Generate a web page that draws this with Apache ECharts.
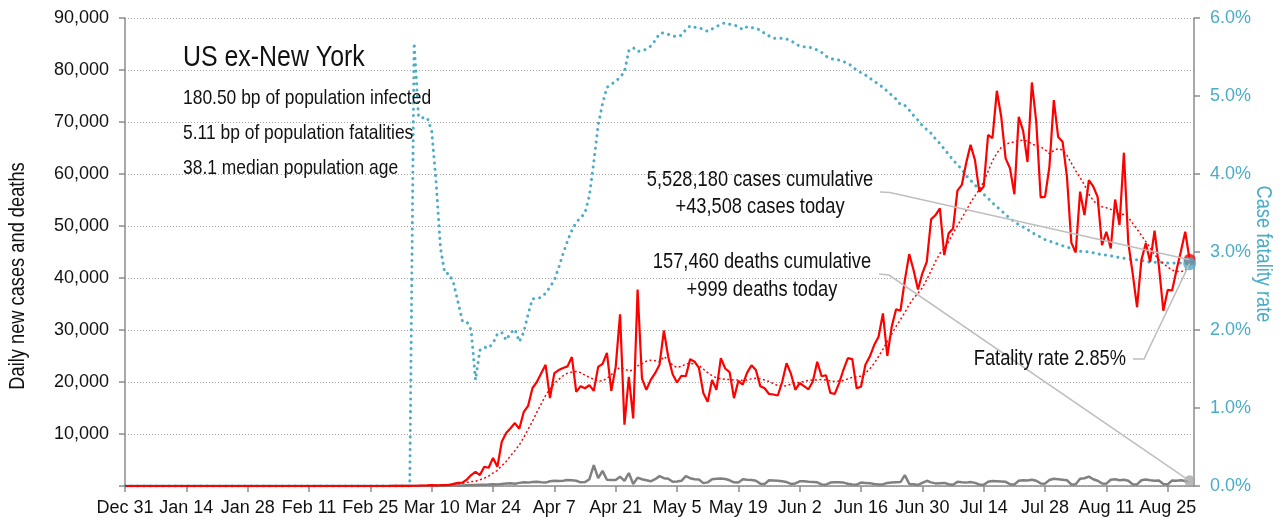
<!DOCTYPE html>
<html>
<head>
<meta charset="utf-8">
<script src="https://cdn.jsdelivr.net/npm/echarts@6/dist/echarts.min.js"></script>
<style>
  html, body { margin: 0; padding: 0; background: #fff; }
  #chart { width: 1283px; height: 527px; }
</style>
</head>
<body>
<div id="chart"></div>
<script>
// daily values Dec 31 .. Aug 30
const cases = [
  0,0,0,0,0,0,0,0,0,0, 0,0,0,0,0,0,0,0,0,0, 0,0,0,0,0,0,0,0,0,0,
  0,0,0,0,0,0,0,0,0,0, 0,0,0,0,0,0,0,0,0,0, 0,0,0,0,0,0,0,0,0,0, 0,
  5,10,15,20,30,50,70,100,120,150,130,150,180,
  200,400,600,650,1200,2100,2700,2100,3700,3500,
  5400,3700,8500,10200,11100,12100,11000,14200,15400,18800,
  20000,21700,23300,16900,21700,22300,22700,23000,24800,18100,
  19200,18800,19400,18300,22900,23500,25600,18300,22900,33000,
  11800,21000,13000,37800,20700,18500,20400,21700,23300,29900,
  24800,21500,19900,21200,21100,24400,23900,22700,17900,16200,
  20400,18500,24600,22600,21900,16900,20200,19500,21800,23200,
  22300,19200,18800,17700,17600,17400,20000,23600,21600,18500,
  19800,19200,18600,20100,23900,21100,21300,17900,17700,19800,
  22400,24600,24400,18800,19100,23300,24900,27100,28700,33200,
  25000,30600,34000,33700,39600,44600,41500,37800,40900,43100,
  51300,52100,53400,44400,48600,49500,56800,57900,62100,65600,
  62700,56600,57600,67500,66900,76000,71000,63000,61100,56100,
  71000,68300,62300,77600,70000,55500,55600,61400,74200,67100,
  66200,59500,46800,44900,56600,52100,58800,57600,55600,46300,
  48900,45700,55100,50200,64100,46800,40900,34400,43500,46700,
  43100,49100,42200,33700,37700,37600,41500,45100,48900,43508
];

const casesAvg = [
  0,0,0,0,0,0,0,0,0,0, 0,0,0,0,0,0,0,0,0,0, 0,0,0,0,0,0,0,0,0,0,
  0,0,0,0,0,0,0,0,0,0, 0,0,0,0,0,0,0,0,0,0, 0,0,0,0,0,0,0,0,0,0,
  0,0,0,0,0,
  20,30,40,60,80,100,130,170,220,
  280,350,430,530,650,850,900,1200,1500,1900,
  2500,3000,3900,4700,5800,6800,7900,9300,10900,12400,
  14200,15800,17400,18700,19700,20500,21200,21700,21900,22000,
  21800,21300,20900,20500,20200,20200,20700,21400,22300,22800,
  22500,22100,22300,23100,23500,24000,24200,24100,23900,24900,
  24200,23200,22800,23000,23500,23600,23500,23200,22500,21800,
  21200,20800,20600,20500,20500,20400,20400,20300,20400,20600,
  20700,20600,20400,20100,19700,19300,19200,19300,19600,19800,
  19900,20100,20300,20400,20400,20500,20400,20200,20100,20200,
  20300,20600,20900,21000,21100,21700,22500,23600,24900,26300,
  27800,29200,30700,32000,33400,34900,36100,37100,38100,39700,
  41400,43200,44700,45700,47000,48600,50000,51500,53000,54500,
  55800,57000,58500,60500,62500,64000,65100,65700,66000,66200,
  66400,66500,66300,65800,65400,65200,64700,63900,64500,64900,
  64600,63600,62100,60600,59300,57900,56100,54900,54100,53700,
  53500,53200,52600,52300,52200,51700,50500,49400,48200,47000,
  45800,44500,43500,42800,42100,41500,41300,41200,41500,42200
];

const deaths = [
  0,0,0,0,0,0,0,0,0,0, 0,0,0,0,0,0,0,0,0,0, 0,0,0,0,0,0,0,0,0,0,
  0,0,0,0,0,0,0,0,0,0, 0,0,0,0,0,0,0,0,0,0, 0,0,0,0,0,0,0,0,0,0,
  0,0,0,0,0,0,
  10,12,15,20,25,30,40,50,
  60,80,100,120,150,180,200,230,260,300,
  350,300,400,500,550,450,600,700,650,750,
  800,700,650,900,1000,950,1000,1150,1100,1000,
  700,750,1300,4000,1500,2900,1200,1150,1150,1800,
  1000,2500,400,1600,1300,1100,900,1300,1900,1500,
  1400,800,850,1000,1900,1500,1300,1250,550,700,
  1300,1400,1450,1350,1100,700,650,1300,1200,1150,
  1000,450,400,1100,1050,1000,900,750,400,500,
  900,900,800,750,700,300,250,650,700,700,
  650,450,300,250,650,600,550,400,300,300,
  600,650,700,750,2100,400,350,200,600,1000,
  700,500,550,600,350,250,800,700,650,750,
  600,300,250,800,950,900,850,800,350,300,
  1000,1100,1050,1200,1000,500,450,1150,1400,1300,
  1200,1100,300,350,1400,1500,1800,1300,1000,500,
  450,1200,1300,1100,1200,1000,350,300,1100,1250,
  1100,1000,1050,400,300,1050,1000,1100,950,999
];

// case fatality rate, percent
const fatality = [
  0,0,0,0,0,0,0,0,0,0, 0,0,0,0,0,0,0,0,0,0, 0,0,0,0,0,0,0,0,0,0,
  0,0,0,0,0,0,0,0,0,0, 0,0,0,0,0,0,0,0,0,0, 0,0,0,0,0,0,0,0,0,0,
  0,0,0,0,0,0,
  5.68,4.73,4.72,4.72,4.55,3.9,3.05,
  2.73,2.72,2.6,2.36,2.12,2.11,2.0,1.36,1.74,1.78,
  1.77,1.83,1.95,1.97,1.87,1.96,2.01,1.85,1.97,2.2,
  2.4,2.4,2.42,2.47,2.55,2.64,2.8,2.98,3.14,3.28,
  3.38,3.44,3.5,3.72,4.15,4.63,4.9,5.11,5.15,5.19,
  5.24,5.31,5.58,5.62,5.57,5.58,5.6,5.64,5.71,5.8,
  5.81,5.79,5.77,5.76,5.78,5.85,5.9,5.88,5.88,5.85,
  5.83,5.86,5.89,5.92,5.94,5.92,5.91,5.89,5.85,5.89,
  5.88,5.86,5.85,5.8,5.77,5.74,5.74,5.74,5.73,5.71,
  5.67,5.64,5.63,5.63,5.61,5.59,5.56,5.51,5.48,5.47,
  5.46,5.44,5.42,5.38,5.33,5.3,5.27,5.23,5.19,5.15,
  5.11,5.06,5.01,4.96,4.89,4.88,4.82,4.75,4.69,4.62,
  4.57,4.52,4.45,4.39,4.32,4.25,4.18,4.12,4.06,3.98,
  3.92,3.86,3.8,3.74,3.69,3.63,3.58,3.53,3.48,3.43,
  3.39,3.35,3.32,3.29,3.25,3.22,3.19,3.16,3.14,3.12,
  3.1,3.08,3.06,3.05,3.02,3.01,3.01,3.0,2.99,2.98,
  2.96,2.96,2.95,2.94,2.93,2.92,2.91,2.9,2.9,2.89,
  2.88,2.87,2.87,2.87,2.87,2.86,2.86,2.86,2.86,2.85,2.85
];

const infoLines = [
  '180.50 bp of population infected',
  '5.11 bp of population fatalities',
  '38.1 median population age'
];

const FONT = "'Liberation Sans', Arial, sans-serif";
const SQUEEZE = 0.83;   // the original uses a condensed face
const RED = '#ff0000';
const TEAL = '#4bacc6';
const GREY = '#808080';
const AXIS = '#8c8c8c';

// one category per day, Dec 31 2019 to Aug 31 2020
const monthNames = ['Jan','Feb','Mar','Apr','May','Jun','Jul','Aug','Sep','Oct','Nov','Dec'];
const dates = [];
for (let i = 0; i < 245; i++) {
  const d = new Date(2019, 11, 31 + i);
  dates.push(monthNames[d.getMonth()] + ' ' + d.getDate());
}

const chart = echarts.init(document.getElementById('chart'));
const last = cases.length - 1;

const option = {
  animation: false,
  textStyle: { fontFamily: FONT },
  grid: { left: 125, right: 89, top: 18, bottom: 41 },
  xAxis: {
    type: 'category',
    data: dates,
    boundaryGap: false,
    axisLine: { lineStyle: { color: AXIS, width: 1.5 } },
    axisTick: { interval: 13, length: 6, lineStyle: { color: AXIS, width: 1.5 } },
    axisLabel: { interval: 13, margin: 13, fontSize: 18, color: '#111', fontFamily: FONT }
  },
  yAxis: [
    {
      type: 'value', min: 0, max: 90000, interval: 10000,
      axisLine: { show: true, lineStyle: { color: AXIS, width: 1.5 } },
      axisTick: { show: true, length: 6, lineStyle: { color: AXIS, width: 1.5 } },
      axisLabel: {
        fontSize: 18, color: '#111', margin: 16, fontFamily: FONT,
        formatter: v => v === 0 ? '' : v.toLocaleString('en-US')
      },
      splitLine: { lineStyle: { color: '#a6a6a6', type: [1, 2], width: 1 } }
    },
    {
      type: 'value', min: 0, max: 6, interval: 1, position: 'right',
      axisLine: { show: true, lineStyle: { color: AXIS, width: 1.5 } },
      axisTick: { show: true, length: 6, lineStyle: { color: AXIS, width: 1.5 } },
      axisLabel: {
        fontSize: 18, color: TEAL, margin: 16, fontFamily: FONT,
        formatter: v => v.toFixed(1) + '%'
      },
      splitLine: { show: false }
    }
  ],
  series: [
    {
      name: 'Case fatality rate', type: 'line', yAxisIndex: 1, data: fatality,
      symbol: 'none', z: 2,
      lineStyle: { color: TEAL, width: 3, type: [0.1, 6.2], cap: 'round' }
    },
    {
      name: 'Deaths', type: 'line', data: deaths, symbol: 'none', z: 3,
      lineStyle: { color: GREY, width: 2.5 }
    },
    {
      name: 'Cases 7d avg', type: 'line', data: casesAvg, symbol: 'none', z: 4,
      lineStyle: { color: RED, width: 1.5, type: [2, 2.5] }
    },
    {
      name: 'Cases', type: 'line', data: cases, symbol: 'none', z: 5,
      lineStyle: { color: RED, width: 2.2 }
    },
    {
      type: 'scatter', data: [[last, cases[last]]], symbolSize: 12, z: 6,
      itemStyle: { color: RED }
    },
    {
      type: 'scatter', yAxisIndex: 1, data: [[last, fatality[last]]], symbolSize: 13, z: 7,
      itemStyle: { color: TEAL }
    },
    {
      type: 'scatter', data: [[last, deaths[last]]], symbolSize: 11, z: 6,
      itemStyle: { color: '#a6a6a6' }
    }
  ]
};

chart.setOption(option);

// leader lines end on the last data points
const pCase = chart.convertToPixel({ seriesIndex: 3 }, [last, cases[last]]);
const pDeath = chart.convertToPixel({ seriesIndex: 1 }, [last, deaths[last]]);
const pRate = chart.convertToPixel({ seriesIndex: 0 }, [last, fatality[last]]);

// text squeezed horizontally around its anchor point
const txt = (text, x, y, size, align, extra, rotation, color) => ({
  type: 'text', z: 20,
  x: x, y: y, scaleX: SQUEEZE, rotation: rotation || 0,
  style: Object.assign({
    text: text, x: 0, y: 0,
    font: size + 'px ' + FONT, fill: color || '#111',
    align: align, textAlign: align,
    verticalAlign: 'middle', textVerticalAlign: 'middle'
  }, extra || {})
});
const leader = pts => ({
  type: 'polyline', z: 15,
  shape: { points: pts },
  style: { stroke: '#bfbfbf', lineWidth: 1.6, fill: null }
});

chart.setOption({
  graphic: [
    txt('US ex-New York', 183, 58, 30, 'left'),
    txt(infoLines[0], 183, 98, 21, 'left'),
    txt(infoLines[1], 183, 133, 21, 'left'),
    txt(infoLines[2], 183, 168, 21, 'left'),
    txt('5,528,180 cases cumulative\n+43,508 cases today', 760, 193, 22, 'center', { lineHeight: 27 }),
    txt('157,460 deaths cumulative\n+999 deaths today', 762, 276, 22, 'center', { lineHeight: 28 }),
    txt('Fatality rate 2.85%', 1126, 359, 22, 'right'),
    txt('Daily new cases and deaths', 18, 276, 22, 'center', null, Math.PI / 2),
    txt('Case fatality rate', 1263, 254, 22, 'center', null, -Math.PI / 2, TEAL),
    leader([[880, 192], [890, 192.5], pCase]),
    leader([[879, 274], [889, 275], pDeath]),
    leader([[1133, 359], [1144, 359], pRate])
  ]
});
</script>
</body>
</html>
